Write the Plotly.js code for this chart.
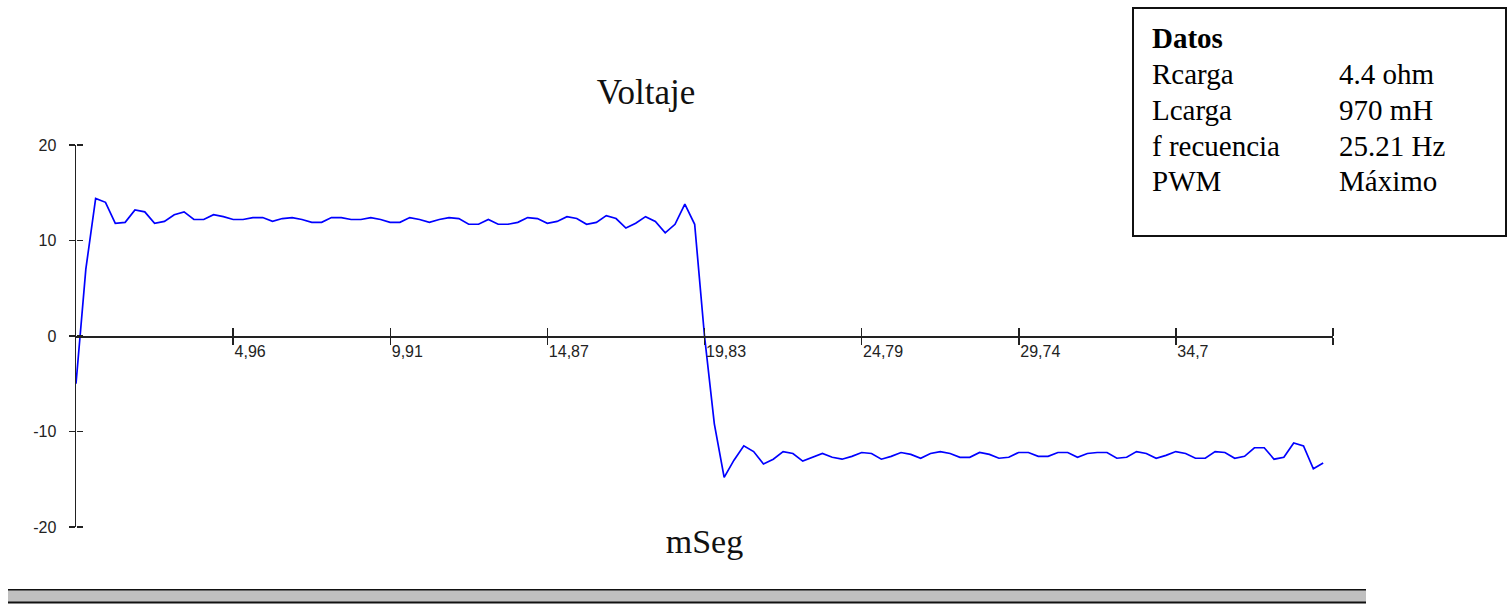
<!DOCTYPE html>
<html>
<head>
<meta charset="utf-8">
<script src="https://cdn.plot.ly/plotly-3.0.1.min.js"></script>
<style>
  html, body { margin: 0; padding: 0; background: #ffffff; }
  #chart { width: 1509px; height: 608px; }
</style>
</head>
<body>
<div id="chart"></div>
<script>
// ---- data ----
const sampleTimes = [
  0.00, 0.31, 0.62, 0.93, 1.24, 1.55, 1.86, 2.17, 2.48, 2.79,
  3.10, 3.41, 3.72, 4.03, 4.34, 4.65, 4.96, 5.27, 5.58, 5.89,
  6.20, 6.51, 6.82, 7.13, 7.44, 7.75, 8.06, 8.37, 8.68, 8.99,
  9.30, 9.61, 9.91, 10.22, 10.53, 10.84, 11.15, 11.46, 11.77, 12.08,
  12.39, 12.70, 13.01, 13.32, 13.63, 13.94, 14.25, 14.56, 14.87, 15.18,
  15.49, 15.80, 16.11, 16.42, 16.73, 17.04, 17.35, 17.66, 17.97, 18.28,
  18.59, 18.90, 19.21, 19.52, 19.83, 20.14, 20.45, 20.76, 21.07, 21.38,
  21.69, 22.00, 22.31, 22.62, 22.93, 23.24, 23.55, 23.86, 24.17, 24.48,
  24.79, 25.10, 25.41, 25.72, 26.03, 26.34, 26.65, 26.96, 27.27, 27.58,
  27.89, 28.20, 28.51, 28.82, 29.12, 29.43, 29.74, 30.05, 30.36, 30.67,
  30.98, 31.29, 31.60, 31.91, 32.22, 32.53, 32.84, 33.15, 33.46, 33.77,
  34.08, 34.39, 34.70, 35.01, 35.32, 35.63, 35.94, 36.25, 36.56, 36.87,
  37.18, 37.49, 37.80, 38.11, 38.42, 38.73, 39.04, 39.35
];
const voltage = [
  -5.0, 7.0, 14.4, 14.0, 11.8, 11.9, 13.2, 13.0, 11.8, 12.0,
  12.7, 13.0, 12.2, 12.2, 12.7, 12.5, 12.2, 12.2, 12.4, 12.4,
  12.0, 12.3, 12.4, 12.2, 11.9, 11.9, 12.4, 12.4, 12.2, 12.2,
  12.4, 12.2, 11.9, 11.9, 12.4, 12.2, 11.9, 12.2, 12.4, 12.3,
  11.7, 11.7, 12.2, 11.7, 11.7, 11.9, 12.4, 12.3, 11.8, 12.0,
  12.5, 12.3, 11.7, 11.9, 12.6, 12.3, 11.3, 11.8, 12.5, 12.0,
  10.8, 11.7, 13.8, 11.7, 0.0, -9.2, -14.8, -13.0, -11.5, -12.1,
  -13.4, -12.9, -12.1, -12.3, -13.1, -12.7, -12.3, -12.7, -12.9, -12.6,
  -12.2, -12.3, -12.9, -12.6, -12.2, -12.4, -12.8, -12.3, -12.1, -12.3,
  -12.7, -12.7, -12.2, -12.4, -12.8, -12.7, -12.2, -12.2, -12.6, -12.6,
  -12.2, -12.2, -12.7, -12.3, -12.2, -12.2, -12.8, -12.7, -12.1, -12.3,
  -12.8, -12.5, -12.1, -12.3, -12.8, -12.8, -12.1, -12.2, -12.8, -12.6,
  -11.7, -11.7, -12.9, -12.7, -11.2, -11.5, -13.9, -13.3
];
const xTickVals = [4.957, 9.915, 14.872, 19.83, 24.787, 29.745, 34.702, 39.66];
const xTickText = ['4,96', '9,91', '14,87', '19,83', '24,79', '29,74', '34,7', ''];
const yTickVals = [-20, -10, 0, 10, 20];
const yTickText = ['-20', '-10', '0', '10', '20'];
const infoLabels = ['<b>Datos</b>', 'Rcarga', 'Lcarga', 'f recuencia', 'PWM'];
const infoValues = ['', '4.4 ohm', '970 mH', '25.21 Hz', 'Máximo'];

// ---- layout helpers (pixel -> paper) ----
const L = 76, R = 1333, T = 145, B = 527;
function px(x) { return (x - L) / (R - L); }
function py(y) { return (B - y) / (B - T); }

const axisColor = '#222222';
const tickFont = { family: 'Liberation Sans, Arial, sans-serif', size: 16, color: '#222222' };
const serif = 'Liberation Serif, Times New Roman, serif';

const traces = [
  { x: sampleTimes, y: voltage, type: 'scatter', mode: 'lines',
    line: { color: '#0000ff', width: 1.7 }, hoverinfo: 'x+y', xaxis: 'x', yaxis: 'y' },
  { x: [], y: [], type: 'scatter', mode: 'lines', xaxis: 'x2', yaxis: 'y', hoverinfo: 'skip' },
  { x: [], y: [], type: 'scatter', mode: 'lines', xaxis: 'x', yaxis: 'y2', hoverinfo: 'skip' }
];

// info box text rows
const rowBaselines = [47.7, 83.3, 119.3, 155, 190.5];
const infoFontSize = 29;
const annotations = [];
infoLabels.forEach(function (lab, i) {
  annotations.push({ xref: 'paper', yref: 'paper', x: px(1150), y: py(rowBaselines[i] - 27.4),
    xanchor: 'left', yanchor: 'top', align: 'left', showarrow: false, text: lab,
    font: { family: serif, size: infoFontSize, color: '#000000' } });
  if (infoValues[i]) {
    annotations.push({ xref: 'paper', yref: 'paper', x: px(1337), y: py(rowBaselines[i] - 27.4),
      xanchor: 'left', yanchor: 'top', align: 'left', showarrow: false, text: infoValues[i],
      font: { family: serif, size: infoFontSize, color: '#000000' } });
  }
});

const layout = {
  width: 1509, height: 608,
  margin: { l: L, r: 1509 - R, t: T, b: 608 - B, pad: 0 },
  paper_bgcolor: '#ffffff', plot_bgcolor: '#ffffff',
  showlegend: false,
  title: {
    text: 'Voltaje',
    font: { family: serif, size: 35, color: '#111111' },
    x: 646 / 1509, xanchor: 'center', xref: 'container',
    y: 1 - 91.5 / 608, yanchor: 'middle', yref: 'container'
  },
  xaxis: {
    range: [0, 39.66], anchor: 'free', position: 0.5,
    tickmode: 'array', tickvals: xTickVals, ticktext: xTickText,
    ticks: 'outside', ticklen: 7, tickwidth: 1.5, tickcolor: axisColor,
    ticklabelposition: 'outside right',
    showline: true, linecolor: axisColor, linewidth: 1.5,
    showgrid: false, zeroline: false, automargin: false,
    tickfont: tickFont,
    title: { text: 'mSeg', font: { family: serif, size: 34, color: '#111111' }, standoff: 170 }
  },
  xaxis2: {
    range: [0, 39.66], overlaying: 'x', anchor: 'free', position: 0.5, side: 'top',
    tickmode: 'array', tickvals: xTickVals, ticks: 'outside', ticklen: 8,
    tickwidth: 1.5, tickcolor: axisColor,
    showticklabels: false, showline: false, showgrid: false, zeroline: false, automargin: false
  },
  yaxis: {
    range: [-20, 20],
    tickmode: 'array', tickvals: yTickVals, ticktext: yTickText,
    ticks: 'outside', ticklen: 6, tickwidth: 1.5, tickcolor: axisColor,
    ticklabelstandoff: 9,
    showline: true, linecolor: axisColor, linewidth: 1.5,
    showgrid: false, zeroline: false, automargin: false,
    tickfont: tickFont
  },
  yaxis2: {
    range: [-20, 20], overlaying: 'y', anchor: 'free', position: 0, side: 'right',
    tickmode: 'array', tickvals: yTickVals, ticks: 'outside', ticklen: 6,
    tickwidth: 1.5, tickcolor: axisColor,
    showticklabels: false, showline: false, showgrid: false, zeroline: false, automargin: false
  },
  shapes: [
    // info box
    { type: 'rect', xref: 'paper', yref: 'paper',
      x0: px(1133), x1: px(1506), y0: py(236), y1: py(8),
      line: { color: '#111111', width: 2 }, fillcolor: 'rgba(0,0,0,0)' },
    // bottom bar
    { type: 'rect', xref: 'paper', yref: 'paper',
      x0: px(8), x1: px(1366), y0: py(603), y1: py(590),
      line: { width: 0 }, fillcolor: '#c0c0c0' },
    { type: 'line', xref: 'paper', yref: 'paper',
      x0: px(8), x1: px(1366), y0: py(589.8), y1: py(589.8),
      line: { color: '#111111', width: 1.5 } },
    { type: 'line', xref: 'paper', yref: 'paper',
      x0: px(8), x1: px(1366), y0: py(602.5), y1: py(602.5),
      line: { color: '#111111', width: 2 } }
  ],
  annotations: annotations
};

Plotly.newPlot('chart', traces, layout, { displayModeBar: false, staticPlot: true });
</script>
</body>
</html>
